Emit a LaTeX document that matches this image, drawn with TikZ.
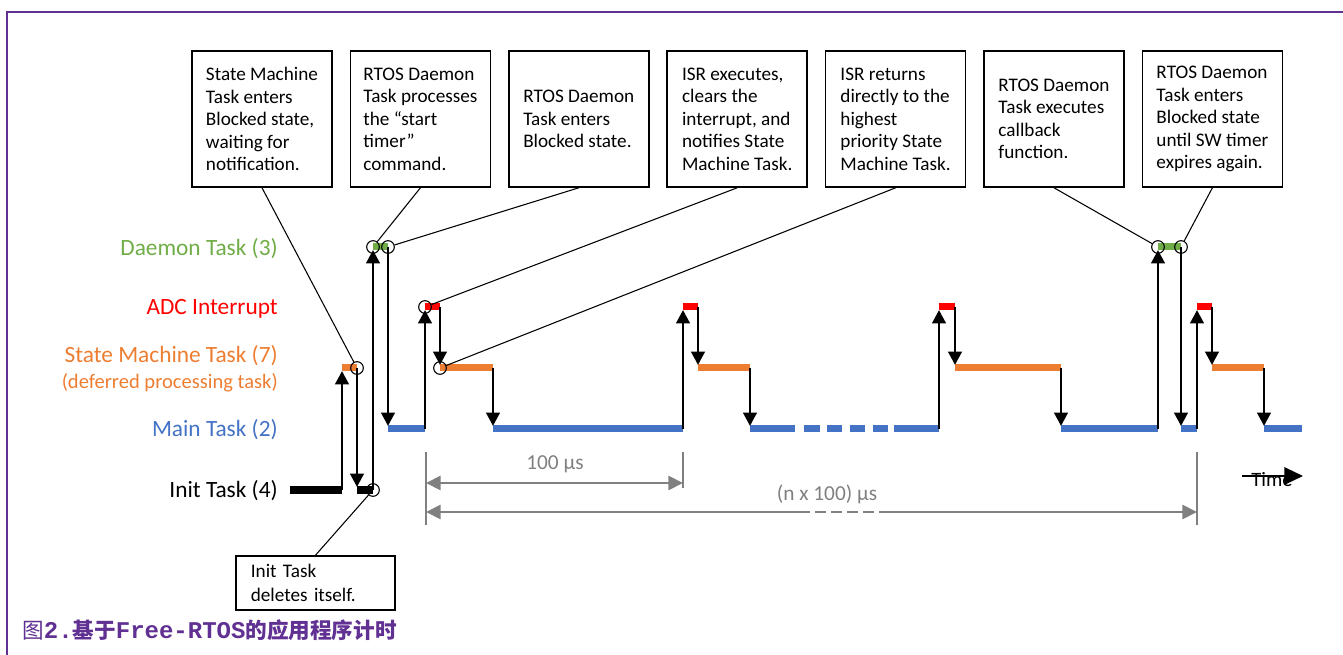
\documentclass[tikz,border=0pt]{standalone}
\usepackage{fontspec}
\setmainfont{Carlito}
\newfontfamily\cjk{Noto Sans CJK SC}
\newfontfamily\capmono{Liberation Mono}
\usepackage{tikz}
\usetikzlibrary{arrows.meta, positioning}
\definecolor{daemonc}{RGB}{112,173,71}
\definecolor{adcc}{RGB}{255,0,0}
\definecolor{smc}{RGB}{237,125,49}
\definecolor{mainc}{RGB}{68,114,196}
\definecolor{dimc}{RGB}{128,128,128}
\definecolor{framec}{RGB}{96,48,146}
\tikzset{%
	note/.style={draw, rectangle, line width=1.2pt, align=left, minimum width=105pt,%
		minimum height=102pt, inner sep=0pt, font=\fontsize{14.4}{16.9}\selectfont},
	tasklbl/.style={anchor=east, inner sep=0pt, font=\fontsize{17.5}{20}\selectfont},
	bar/.style={line width=5.25pt},
	jump/.style={line width=2.2pt, -{Triangle[width=10pt,length=10pt]}},
	ring/.style={draw, circle, line width=0.8pt, minimum size=9.5pt, inner sep=0pt},
	lead/.style={line width=0.8pt},
	dimarrow/.style={dimc, line width=2.2pt},
	tick/.style={dimc, line width=1pt},
	dimtext/.style={text=dimc, inner sep=0pt, font=\fontsize{16}{19}\selectfont}
}
\begin{document}
\begin{tikzpicture}[x=0.75pt, y=-0.75pt, node distance=12.6pt]
	\useasboundingbox (0,0) rectangle (1343,655);
	\draw[framec, line width=2pt] (7,655) -- (7,12) -- (1343,12);

	% task levels
	\node[tasklbl, text=daemonc] (lDaemon) at (278,249) {Daemon Task (3)};
	\node[tasklbl, text=adcc] (lAdc) at (278,309) {ADC Interrupt};
	\node[tasklbl, text=smc] (lSm) at (278,356) {State Machine Task (7)};
	\node[tasklbl, text=smc, font=\fontsize{15.4}{18}\selectfont] (lSmSub) at (278,383) {(deferred processing task)};
	\node[tasklbl, text=mainc] (lMain) at (278,430) {Main Task (2)};
	\node[tasklbl] (lInit) at (278,491) {Init Task (4)};

	% running slices
	\draw[bar, line width=6pt] (290,490) -- (342,490) (357,490) -- (373,490);
	\draw[bar, smc] (342,368) -- (357,368) (440,368) -- (493,368) (698,368) -- (750,368)
		(955,368) -- (1061,368) (1212,368) -- (1264,368);
	\draw[bar, adcc] (425,307) -- (440,307) (683,307) -- (698,307) (939,307) -- (955,307)
		(1197,307) -- (1212,307);
	\draw[bar, daemonc] (373,247) -- (388,247) (1158,247) -- (1181,247);
	\draw[bar, mainc] (388,429) -- (425,429) (493,429) -- (683,429) (750,429) -- (795,429)
		(804,429) -- (820,429) (827,429) -- (842,429) (850,429) -- (865,429) (873,429) -- (888,429)
		(894,429) -- (939,429) (1061,429) -- (1158,429) (1181,429) -- (1197,429) (1264,429) -- (1302,429);

	% context switches
	\foreach \x/\a/\b in {342/490/371, 373/490/250, 425/429/310, 683/429/310, 939/429/310,
		1158/429/250, 1197/429/310}
		\draw[jump] (\x,\a) -- (\x,\b);
	\foreach \x/\a/\b in {357/368/487, 388/247/426, 440/307/365, 493/368/426, 698/307/365,
		750/368/426, 955/307/365, 1061/368/426, 1181/247/426, 1212/307/365, 1264/368/426}
		\draw[jump] (\x,\a) -- (\x,\b);

	% event rings
	\node[ring] (cSm) at (357,368) {};
	\node[ring] (cInit) at (373,490) {};
	\node[ring] (cD1) at (373,247) {};
	\node[ring] (cD2) at (388,247) {};
	\node[ring] (cAdc) at (425,307) {};
	\node[ring] (cSm2) at (440,368) {};
	\node[ring] (cD3) at (1158,247) {};
	\node[ring] (cD4) at (1181,247) {};

	% callouts
	\node[note] (n1) at (262,119) {State Machine\\Task enters\\Blocked state,\\waiting for\\notification.};
	\node[note, right=of n1] (n2) {RTOS Daemon\\Task processes\\the “start\\timer”\\command.};
	\node[note, right=of n2] (n3) {RTOS Daemon\\Task enters\\Blocked state.};
	\node[note, right=of n3] (n4) {ISR executes,\\clears the\\interrupt, and\\notifies State\\Machine Task.};
	\node[note, right=of n4] (n5) {ISR returns\\directly to the\\highest\\priority State\\Machine Task.};
	\node[note, right=of n5] (n6) {RTOS Daemon\\Task executes\\callback\\function.};
	\node[note, right=of n6] (n7) {RTOS Daemon\\Task enters\\Blocked state\\until SW timer\\expires again.};
	\node[note, minimum width=0pt, minimum height=40.5pt, text width=97pt, inner xsep=11pt,
		font=\fontsize{14.4}{18.5}\selectfont] (n8) at (315.5,583) {Init Task\\deletes itself.};

	\draw[lead] (n1.south) -- (cSm);
	\draw[lead] (n2.south) -- (cD1);
	\draw[lead] (n3.south) -- (cD2);
	\draw[lead] (n4.south) -- (cAdc);
	\draw[lead] (n5.south) -- (cSm2);
	\draw[lead] (n6.south) -- (cD3);
	\draw[lead] (n7.south) -- (cD4);
	\draw[lead] (n8.north) -- (cInit);

	% timing dimensions
	\coordinate (p0) at (426,483);
	\coordinate (p1) at (683,483);
	\coordinate (q0) at (426,512);
	\coordinate (qa) at (799,512);
	\coordinate (qb) at (880,512);
	\coordinate (q1) at (1197,512);
	\draw[tick] (426,452) -- (426,525);
	\draw[tick] (683,452) -- (683,488);
	\draw[tick] (1197,452) -- (1197,525);
	\draw[dimarrow, {Triangle[width=10.5pt,length=11pt]}-{Triangle[width=10.5pt,length=11pt]}] (p0) -- (p1);
	\draw[dimarrow, {Triangle[width=10.5pt,length=11pt]}-] (q0) -- (qa);
	\draw[dimc, line width=1pt, dash pattern=on 8pt off 4pt] (qa) -- (qb);
	\draw[dimarrow, -{Triangle[width=10.5pt,length=11pt]}] (qb) -- (q1);
	\node[dimtext] (t100) at (555,464) {100 µs};
	\node[dimtext] (tn100) at (827,494) {(n x 100) µs};

	% time axis
	\node[inner sep=0pt, font=\fontsize{15.3}{18}\selectfont] (time) at (1272,480) {Time};
	\coordinate (t0) at (1242,476);
	\coordinate (t1) at (1303,476);
	\draw[line width=1.6pt, -{Triangle[width=13pt,length=14pt]}] (t0) -- (t1);

	\node[anchor=west, inner sep=0pt, text=framec] (cap) at (22,630)
		{\fontsize{16.2}{18}\cjk 图\capmono\bfseries\fontsize{18}{18}\selectfont 2.\cjk\fontsize{16.2}{18}\selectfont 基于\capmono\bfseries\fontsize{18}{18}\selectfont Free-RTOS\cjk\fontsize{16.2}{18}\selectfont 的应用程序计时};
\end{tikzpicture}
\end{document}
